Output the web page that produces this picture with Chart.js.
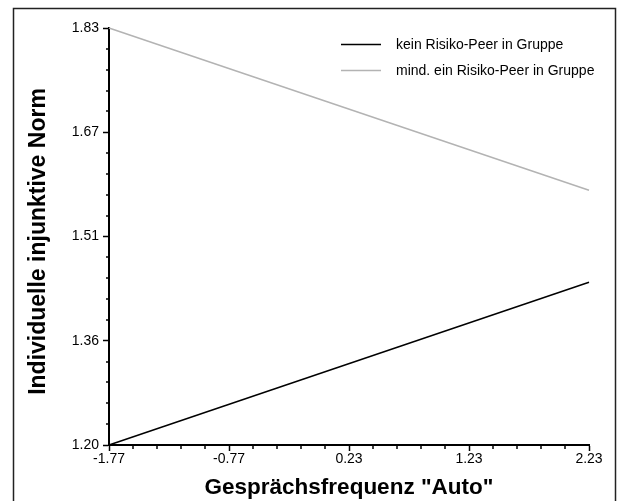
<!DOCTYPE html>
<html>
<head>
<meta charset="utf-8">
<script src="https://cdn.jsdelivr.net/npm/chart.js@4/dist/chart.umd.min.js"></script>
<style>
  html, body { margin: 0; padding: 0; background: #fff; }
  #wrap { width: 620px; height: 501px; position: relative; }
</style>
</head>
<body>
<div id="wrap"><canvas id="c" width="620" height="501"></canvas></div>
<script>
// Moderator levels on the x axis
const xValues = [-1.77, 2.23];
const xTickValues = [-1.77, -0.77, 0.23, 1.23, 2.23];

// Predicted values per group
const keinRisikoPeer = [1.20, 1.446];
const mindEinRisikoPeer = [1.83, 1.585];

// Y axis range and tick labels
const yMin = 1.20;
const yMax = 1.83;
const yTickLabels = ['1.20', '1.36', '1.51', '1.67', '1.83'];

const seriesNames = ['kein Risiko-Peer in Gruppe', 'mind. ein Risiko-Peer in Gruppe'];
const seriesColors = ['#000000', '#b3b3b3'];
const yAxisTitle = 'Individuelle injunktive Norm';
const xAxisTitle = 'Gesprächsfrequenz "Auto"';

const FONT = "'Liberation Sans', Arial, sans-serif";

// Outer frame, minor ticks, y-axis title and the legend
const decorations = {
  id: 'decorations',
  beforeDraw(chart) {
    const ctx = chart.ctx;
    ctx.save();
    ctx.fillStyle = '#fff';
    ctx.fillRect(0, 0, chart.width, chart.height);
    ctx.strokeStyle = '#222';
    ctx.lineWidth = 1.5;
    ctx.strokeRect(13.5, 8.5, 602, 520);
    ctx.restore();
  },
  afterDraw(chart) {
    const ctx = chart.ctx;
    const xs = chart.scales.x, ys = chart.scales.y;
    const area = chart.chartArea;
    ctx.save();
    ctx.strokeStyle = '#000';
    ctx.lineWidth = 1.5;
    // minor ticks on x: five subdivisions between labelled ticks
    for (let i = 0; i < xTickValues.length - 1; i++) {
      const a = xTickValues[i], b = xTickValues[i + 1];
      for (let k = 1; k < 5; k++) {
        const px = Math.round(xs.getPixelForValue(a + (b - a) * k / 5));
        ctx.beginPath();
        ctx.moveTo(px, area.bottom);
        ctx.lineTo(px, area.bottom + 4);
        ctx.stroke();
      }
    }
    // minor ticks on y
    const yStep = (yMax - yMin) / (yTickLabels.length - 1);
    for (let i = 0; i < yTickLabels.length - 1; i++) {
      const a = yMin + i * yStep;
      for (let k = 1; k < 5; k++) {
        const py = Math.round(ys.getPixelForValue(a + yStep * k / 5));
        ctx.beginPath();
        ctx.moveTo(area.left - 3, py);
        ctx.lineTo(area.left + 1, py);
        ctx.stroke();
      }
    }
    // y-axis title, rotated
    ctx.save();
    ctx.translate(39, (area.top + area.bottom) / 2 + 5);
    ctx.rotate(-Math.PI / 2);
    ctx.font = 'bold 23px ' + FONT;
    ctx.fillStyle = '#000';
    ctx.textAlign = 'center';
    ctx.textBaseline = 'middle';
    ctx.fillText(yAxisTitle, 0, 0);
    ctx.restore();
    // legend
    ctx.font = '14px ' + FONT;
    ctx.textBaseline = 'middle';
    ctx.textAlign = 'left';
    chart.data.datasets.forEach((ds, i) => {
      const y = area.top + 16.5 + i * 26;
      const x0 = area.right - 248;
      ctx.strokeStyle = ds.borderColor;
      ctx.lineWidth = 1.5;
      ctx.beginPath();
      ctx.moveTo(x0, y);
      ctx.lineTo(x0 + 40, y);
      ctx.stroke();
      ctx.fillStyle = '#000';
      ctx.fillText(ds.label, x0 + 55, y + 1);
    });
    ctx.restore();
  }
};

new Chart(document.getElementById('c'), {
  type: 'line',
  data: {
    datasets: [
      {
        label: seriesNames[0],
        data: xValues.map((x, i) => ({ x, y: keinRisikoPeer[i] })),
        borderColor: seriesColors[0],
        borderWidth: 1.5,
        pointRadius: 0,
        clip: false
      },
      {
        label: seriesNames[1],
        data: xValues.map((x, i) => ({ x, y: mindEinRisikoPeer[i] })),
        borderColor: seriesColors[1],
        borderWidth: 1.5,
        pointRadius: 0,
        clip: false
      }
    ]
  },
  options: {
    responsive: false,
    animation: false,
    devicePixelRatio: 1,
    layout: { padding: { left: 13, right: 31, top: 28, bottom: 0 } },
    plugins: { legend: { display: false }, tooltip: { enabled: false } },
    scales: {
      x: {
        type: 'linear',
        min: xValues[0],
        max: xValues[xValues.length - 1],
        afterBuildTicks(scale) { scale.ticks = xTickValues.map(v => ({ value: v })); },
        afterFit(scale) { scale.height = 56; },
        ticks: {
          color: '#000',
          font: { family: FONT, size: 14 },
          padding: 0,
          maxRotation: 0,
          autoSkip: false,
          callback: (v) => v.toFixed(2)
        },
        grid: { drawOnChartArea: false, drawTicks: true, tickLength: 6, tickWidth: 1.5, tickColor: '#000' },
        border: { display: true, color: '#000', width: 2 },
        title: {
          display: true,
          text: xAxisTitle,
          color: '#000',
          font: { family: FONT, size: 22.5, weight: 'bold' },
          padding: { top: 0, bottom: 0 }
        }
      },
      y: {
        type: 'linear',
        min: yMin,
        max: yMax,
        afterBuildTicks(scale) {
          const step = (yMax - yMin) / (yTickLabels.length - 1);
          scale.ticks = yTickLabels.map((_, i) => ({ value: yMin + i * step }));
        },
        afterFit(scale) { scale.width = 96; },
        ticks: {
          color: '#000',
          font: { family: FONT, size: 14 },
          padding: 4,
          autoSkip: false,
          callback: (v, i) => yTickLabels[i]
        },
        grid: { drawOnChartArea: false, drawTicks: true, tickLength: 6, tickWidth: 1.5, tickColor: '#000' },
        border: { display: true, color: '#000', width: 2 },
        title: { display: false }
      }
    }
  },
  plugins: [decorations]
});
</script>
</body>
</html>
